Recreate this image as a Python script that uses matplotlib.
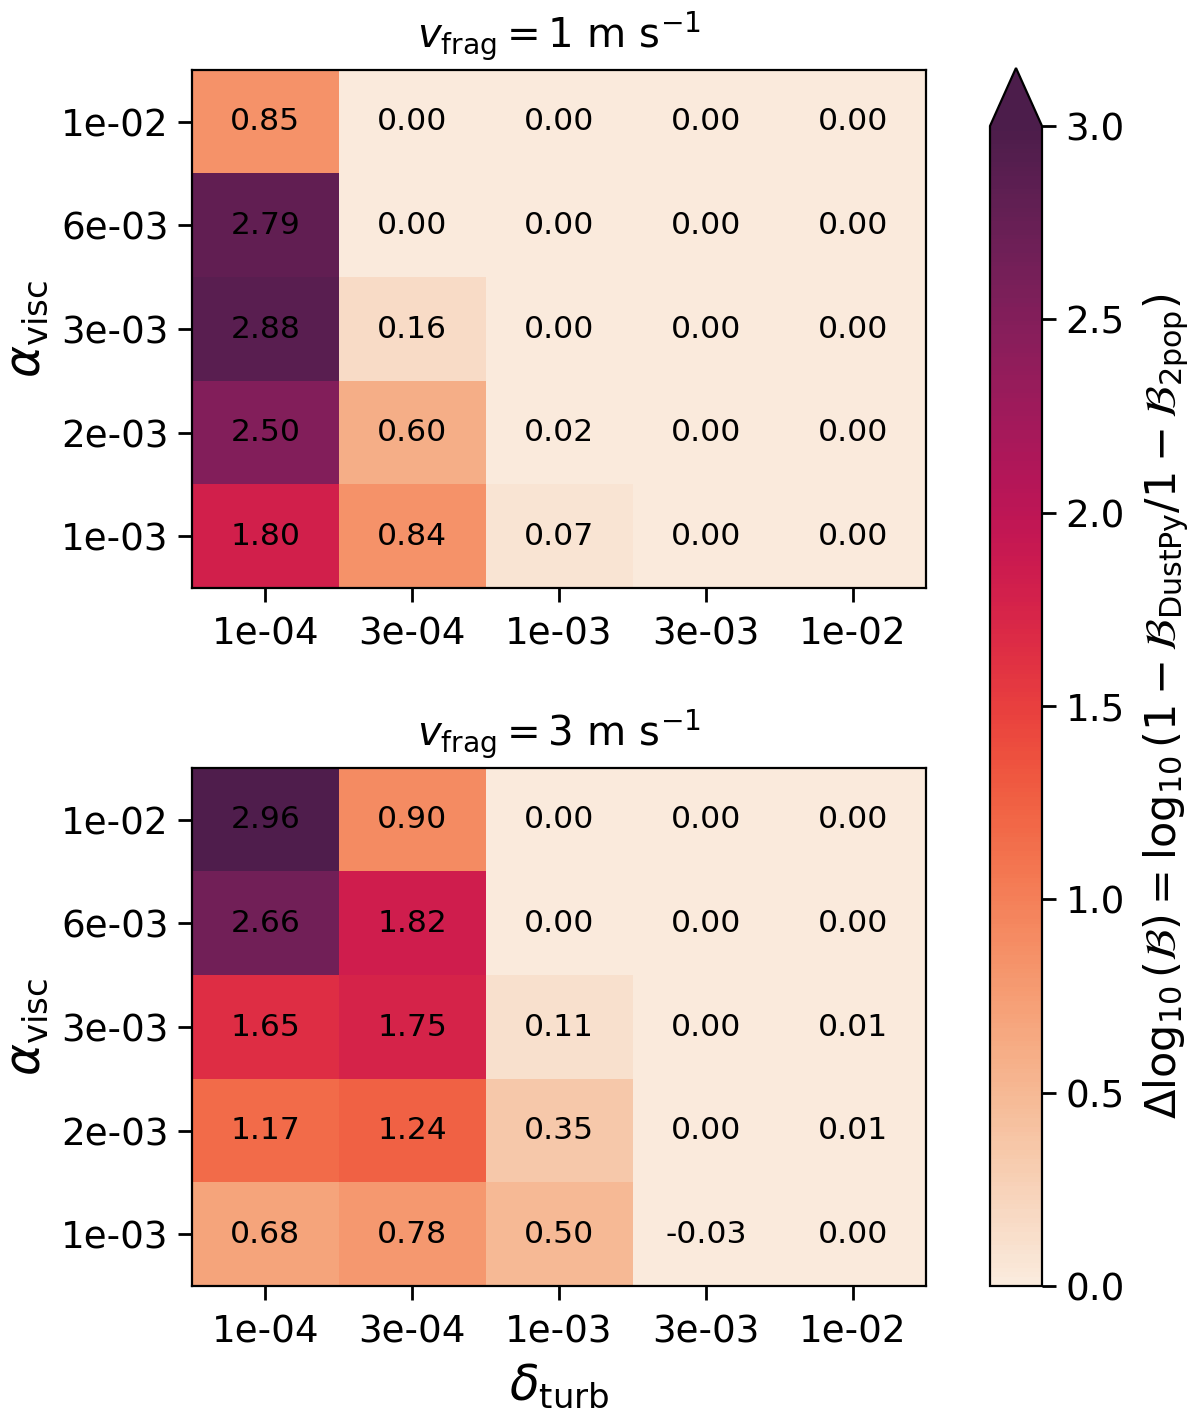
import numpy as np
import matplotlib
matplotlib.use("Agg")
import matplotlib.pyplot as plt
from matplotlib.colors import ListedColormap
import seaborn as sns

delta_labels = ["1e-04", "3e-04", "1e-03", "3e-03", "1e-02"]
alpha_labels = ["1e-02", "6e-03", "3e-03", "2e-03", "1e-03"]  # top to bottom

vfrag1 = [
    [0.85, 0.00, 0.00, 0.00, 0.00],
    [2.79, 0.00, 0.00, 0.00, 0.00],
    [2.88, 0.16, 0.00, 0.00, 0.00],
    [2.50, 0.60, 0.02, 0.00, 0.00],
    [1.80, 0.84, 0.07, 0.00, 0.00],
]
vfrag3 = [
    [2.96, 0.90, 0.00, 0.00, 0.00],
    [2.66, 1.82, 0.00, 0.00, 0.00],
    [1.65, 1.75, 0.11, 0.00, 0.01],
    [1.17, 1.24, 0.35, 0.00, 0.01],
    [0.68, 0.78, 0.50, -0.03, 0.00],
]
titles = [r"$v_{\rm frag} = 1\ \mathrm{m\ s^{-1}}$", r"$v_{\rm frag} = 3\ \mathrm{m\ s^{-1}}$"]

base = sns.color_palette("rocket_r", as_cmap=True)
cmap = ListedColormap(base(np.linspace(0.0, 0.8, 256)))
W, H = 1200, 1417
fig = plt.figure(figsize=(W / 200, H / 200), dpi=200)

def px_axes(x0, y0, x1, y1):
    return fig.add_axes([x0 / W, 1 - y1 / H, (x1 - x0) / W, (y1 - y0) / H])

ax1 = px_axes(192, 70, 926, 588)
ax2 = px_axes(192, 768, 926, 1286)

for ax, data, title in [(ax1, vfrag1, titles[0]), (ax2, vfrag3, titles[1])]:
    arr = np.array(data)
    im = ax.imshow(arr, cmap=cmap, vmin=0, vmax=3, aspect="auto")
    for i in range(arr.shape[0]):
        for j in range(arr.shape[1]):
            ax.text(j, i, f"{arr[i, j]:.2f}", ha="center", va="center", fontsize=11.3, color="black")
    ax.set_xticks(range(len(delta_labels)))
    ax.set_xticklabels(delta_labels, fontsize=13.4)
    ax.set_yticks(range(len(alpha_labels)))
    ax.set_yticklabels(alpha_labels, fontsize=13.4)
    ax.tick_params(length=5, width=1.0)
    ax.tick_params(axis="x", pad=5)
    ax.set_ylabel(r"$\alpha_{\rm visc}$", fontsize=17.5)
    ax.set_title(title, fontsize=14.5, pad=8)

ax2.set_xlabel(r"$\delta_{\rm turb}$", fontsize=17.5)

cax = px_axes(990, 68, 1042, 1286)
cb = fig.colorbar(im, cax=cax, extend="max")
cb.set_ticks([0, 0.5, 1.0, 1.5, 2.0, 2.5, 3.0])
cb.ax.tick_params(labelsize=13.4, length=5, width=1.0)
cb.set_label(r"$\Delta \log_{10}(\mathcal{B}) = \log_{10}(1 - \mathcal{B}_{\rm DustPy}/1 - \mathcal{B}_{\rm 2pop})$",
             fontsize=15.5, labelpad=6)

fig.savefig("out.png", dpi=200)
